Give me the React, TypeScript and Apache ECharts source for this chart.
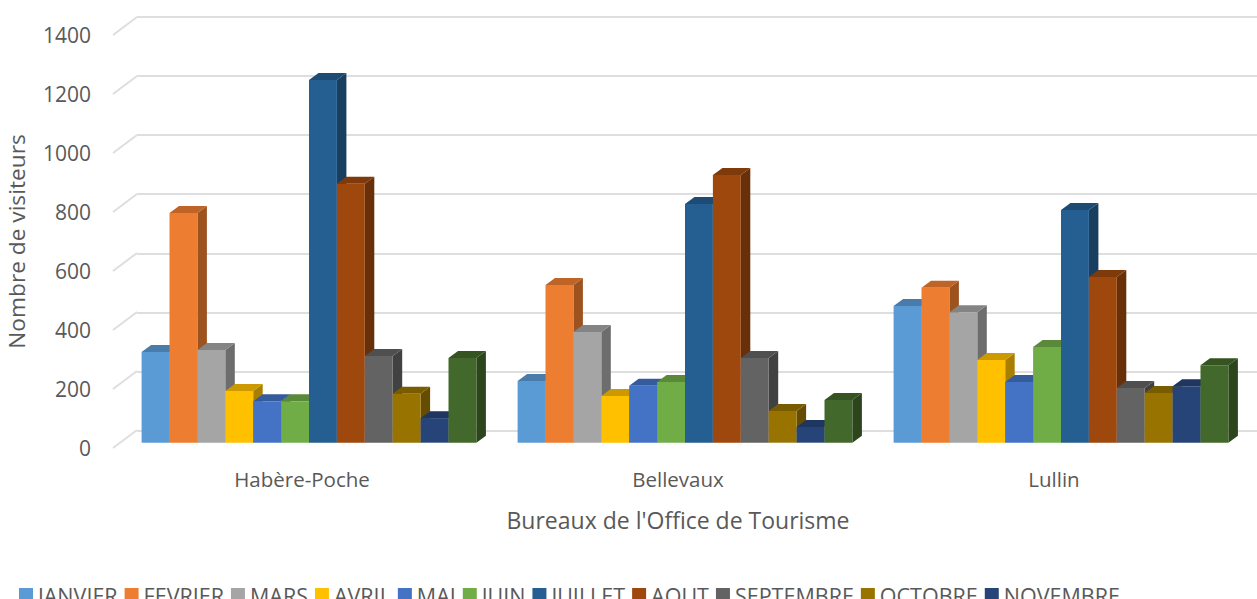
import React, { useEffect, useRef } from "react";
import * as echarts from "echarts";

const bureaux = ["Habère-Poche", "Bellevaux", "Lullin"];
const mois = ["JANVIER", "FEVRIER", "MARS", "AVRIL", "MAI", "JUIN", "JUILLET", "AOUT", "SEPTEMBRE", "OCTOBRE", "NOVEMBRE", "DECEMBRE"];
const janvier = [306, 208, 462];
const fevrier = [776, 533, 523];
const mars = [313, 374, 441];
const avril = [175, 158, 279];
const mai = [140, 192, 205];
const juin = [140, 205, 323];
const juillet = [1225, 806, 786];
const aout = [875, 904, 560];
const septembre = [293, 286, 185];
const octobre = [165, 107, 168];
const novembre = [83, 53, 191];
const decembre = [286, 144, 262];
const valeurs = [janvier, fevrier, mars, avril, mai, juin, juillet, aout, septembre, octobre, novembre, decembre];
const couleurs = ["#5B9BD5", "#ED7D31", "#A5A5A5", "#FFC000", "#4472C4", "#70AD47", "#255E91", "#9E480E", "#636363", "#997300", "#264478", "#43682B"];
const graduations = [0, 200, 400, 600, 800, 1000, 1200, 1400];

const FONT = "Open Sans";
const TEXT = "#595959";
const GRID_LINE = "#dedede";

function shade(hex: string, k: number) {
  const n = parseInt(hex.slice(1), 16);
  const c = [(n >> 16) & 255, (n >> 8) & 255, n & 255].map((v) => Math.round(v * k));
  return `rgb(${c[0]},${c[1]},${c[2]})`;
}

const barRatio = 27.9 / 376;
const depthX = 9.5;
const depthY = 7;

function makeBarRenderer(seriesPos: number, color: string) {
  return (_params: any, api: any) => {
    const i = api.value(0);
    const v = api.value(1);
    const base = api.coord([i, 0]);
    const top = api.coord([i, v]);
    const w = api.size([1, 0])[0] * barRatio;
    const x = base[0] + (seriesPos - 6) * w;
    const yT = top[1];
    const yB = base[1];
    return {
      type: "group",
      children: [
        {
          type: "polygon",
          shape: { points: [[x + w, yT], [x + w + depthX, yT - depthY], [x + w + depthX, yB - depthY], [x + w, yB]] },
          style: { fill: shade(color, 0.66) },
        },
        {
          type: "polygon",
          shape: { points: [[x, yT], [x + depthX, yT - depthY], [x + w + depthX, yT - depthY], [x + w, yT]] },
          style: { fill: shade(color, 0.8) },
        },
        { type: "rect", shape: { x, y: yT, width: w, height: yB - yT }, style: { fill: color } },
      ],
    };
  };
}

function renderDiagonal(params: any, api: any) {
  const p = api.coord([0, api.value(1)]);
  const x0 = params.coordSys.x - 1;
  return {
    type: "line",
    shape: { x1: x0, y1: p[1], x2: x0 + 24, y2: p[1] - 18 },
    style: { stroke: GRID_LINE, lineWidth: 2 },
  };
}

export default function App() {
  const ref = useRef<HTMLDivElement>(null);
  useEffect(() => {
    const chart = echarts.init(ref.current!, undefined, { renderer: "svg" });
    const hiddenCat = { type: "category", data: bureaux, show: false };
    const hiddenVal = { type: "value", min: 0, max: 1400, interval: 200, show: false };
    chart.setOption({
      animation: false,
      backgroundColor: "#ffffff",
      textStyle: { fontFamily: FONT },
      grid: [
        { left: 137, top: 16.5, width: 1120, height: 414.5, outerBoundsMode: "none" },
        { left: 114, top: 35, width: 1128, height: 413, outerBoundsMode: "none" },
        { left: 121, top: 28.2, width: 1128, height: 414.5, outerBoundsMode: "none" },
      ],
      xAxis: [
        { ...hiddenCat, gridIndex: 0 },
        {
          type: "category",
          gridIndex: 1,
          data: bureaux,
          axisLine: { show: false },
          axisTick: { show: false },
          axisLabel: { color: TEXT, fontSize: 20.5, fontFamily: FONT, margin: 20 },
          name: "Bureaux de l'Office de Tourisme",
          nameLocation: "middle",
          nameGap: 60,
          nameTextStyle: { color: TEXT, fontSize: 23, fontFamily: FONT },
        },
        { ...hiddenCat, gridIndex: 2 },
      ],
      yAxis: [
        {
          type: "value",
          gridIndex: 0,
          min: 0,
          max: 1400,
          interval: 200,
          axisLabel: { show: false },
          axisLine: { show: false },
          axisTick: { show: false },
          splitLine: { show: true, lineStyle: { color: GRID_LINE, width: 2 } },
        },
        {
          type: "value",
          gridIndex: 1,
          min: 0,
          max: 1400,
          interval: 200,
          axisLine: { show: false },
          axisTick: { show: false },
          splitLine: { show: false },
          axisLabel: { color: TEXT, fontSize: 21, fontFamily: FONT, margin: 23, padding: [2, 0, 0, 0], formatter: (v: number) => String(v) },
          name: "Nombre de visiteurs",
          nameLocation: "middle",
          nameGap: 86,
          nameTextStyle: { color: TEXT, fontSize: 22.7, fontFamily: FONT },
        },
        { ...hiddenVal, gridIndex: 2 },
      ],
      legend: {
        data: mois,
        icon: "rect",
        left: 19,
        top: 584,
        itemWidth: 14,
        itemHeight: 14,
        itemGap: 7,
        padding: 0,
        textStyle: { color: TEXT, fontSize: 21.5, fontFamily: FONT, lineHeight: 20 },
      },
      series: [
        {
          type: "custom",
          silent: true,
          xAxisIndex: 1,
          yAxisIndex: 1,
          clip: false,
          z: 1,
          renderItem: renderDiagonal,
          data: graduations.map((g) => [0, g]),
          encode: { x: 0, y: 1 },
        },
        ...mois.map((nom, s) => ({
          type: "custom",
          name: nom,
          xAxisIndex: 2,
          yAxisIndex: 2,
          clip: false,
          z: 2,
          itemStyle: { color: couleurs[s] },
          renderItem: makeBarRenderer(s, couleurs[s]),
          data: valeurs[s].map((v, i) => [i, v]),
          encode: { x: 0, y: 1 },
        })),
      ],
    });
    return () => chart.dispose();
  }, []);
  return <div ref={ref} style={{ position: "absolute", left: 0, top: 0, width: 1257, height: 599 }} />;
}
